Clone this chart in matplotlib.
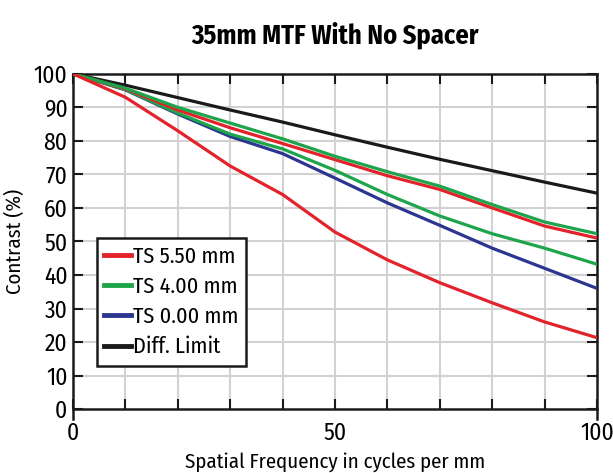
import numpy as np
import matplotlib.pyplot as plt

# spatial frequency (cycles/mm)
freq = [0, 10, 20, 30, 40, 50, 60, 70, 80, 90, 100]

# contrast values (%)
diff_limit = [100, 96.6, 92.9, 89.2, 85.6, 81.8, 78.1, 74.5, 71.1, 67.7, 64.4]
ts400_upper = [100, 95.7, 90.0, 85.3, 80.6, 75.4, 70.8, 66.5, 61.0, 55.8, 52.3]
ts550_upper = [100, 95.5, 89.2, 83.9, 79.2, 74.4, 69.6, 65.5, 60.0, 54.6, 51.0]
ts400_lower = [100, 95.3, 88.3, 82.0, 77.6, 71.2, 64.0, 57.6, 52.3, 48.0, 43.2]
ts000 = [100, 95.2, 88.0, 81.3, 76.2, 68.9, 61.5, 54.8, 48.0, 42.0, 36.0]
ts550_lower = [100, 93.0, 83.0, 72.5, 64.0, 52.8, 44.5, 37.7, 31.7, 26.0, 21.3]

labels = ['TS 5.50 mm', 'TS 4.00 mm', 'TS 0.00 mm', 'Diff. Limit']
x_ticks = [0, 50, 100]
y_ticks = list(range(0, 101, 10))

RED = '#e3232c'
GREEN = '#1ea54b'
BLUE = '#2c3590'
BLACK = '#1a1a1a'

plt.rcParams['font.family'] = ['Fira Sans Condensed', 'Barlow Condensed', 'DejaVu Sans']

fig = plt.figure(figsize=(6.13, 4.73), dpi=100)
ax = fig.add_axes([0.119, 0.135, 0.855, 0.709])

lw = 2.3
ax.plot(freq, diff_limit, color=BLACK, lw=lw, zorder=3)
ax.plot(freq, ts000, color=BLUE, lw=lw, zorder=3)
ax.plot(freq, ts400_lower, color=GREEN, lw=lw, zorder=3)
ax.plot(freq, ts550_upper, color=RED, lw=lw, zorder=3)
ax.plot(freq, ts400_upper, color=GREEN, lw=lw, zorder=3)
ax.plot(freq, ts550_lower, color=RED, lw=lw, zorder=3)

ax.set_xlim(0, 100)
ax.set_ylim(0, 100)

# light grid every 10 units
for g in range(10, 100, 10):
    ax.axvline(g, color='#d2d2d2', lw=1.5, zorder=1)
    ax.axhline(g, color='#d2d2d2', lw=1.5, zorder=1)

ax.set_xticks(x_ticks)
ax.set_xticks(range(0, 101, 10), minor=True)
ax.set_yticks(y_ticks)
ax.tick_params(axis='both', which='both', direction='in', length=7, width=1.5,
               top=True, right=True, labelsize=17, pad=4, color=BLACK)
ax.tick_params(axis='x', which='major', pad=9)
ax.tick_params(axis='y', which='major', labelright=False)

for side in ['left', 'right', 'top', 'bottom']:
    ax.spines[side].set_linewidth(1.8)
    ax.spines[side].set_color(BLACK)
ax.spines['left'].set_bounds(-3, 100)
ax.spines['right'].set_bounds(-3, 100)

ax.set_xlabel('Spatial Frequency in cycles per mm', fontsize=15, labelpad=5)
ax.set_ylabel('Contrast (%)', fontsize=15, labelpad=6)
ax.set_title('35mm MTF With No Spacer', fontsize=19, fontweight='bold', pad=22)

handles = [plt.Line2D([], [], color=c, lw=3.5) for c in [RED, GREEN, BLUE, BLACK]]
leg = ax.legend(handles, labels, loc='lower left', bbox_to_anchor=(0.045, 0.13),
                fontsize=16, frameon=True, fancybox=False, handlelength=1.2,
                handletextpad=0.1, labelspacing=0.4, borderpad=0.35,
                borderaxespad=0)
leg.get_frame().set_edgecolor(BLACK)
leg.get_frame().set_linewidth(1.8)
leg.get_frame().set_alpha(1)
leg.set_zorder(5)

fig.savefig('out.png', dpi=100)
